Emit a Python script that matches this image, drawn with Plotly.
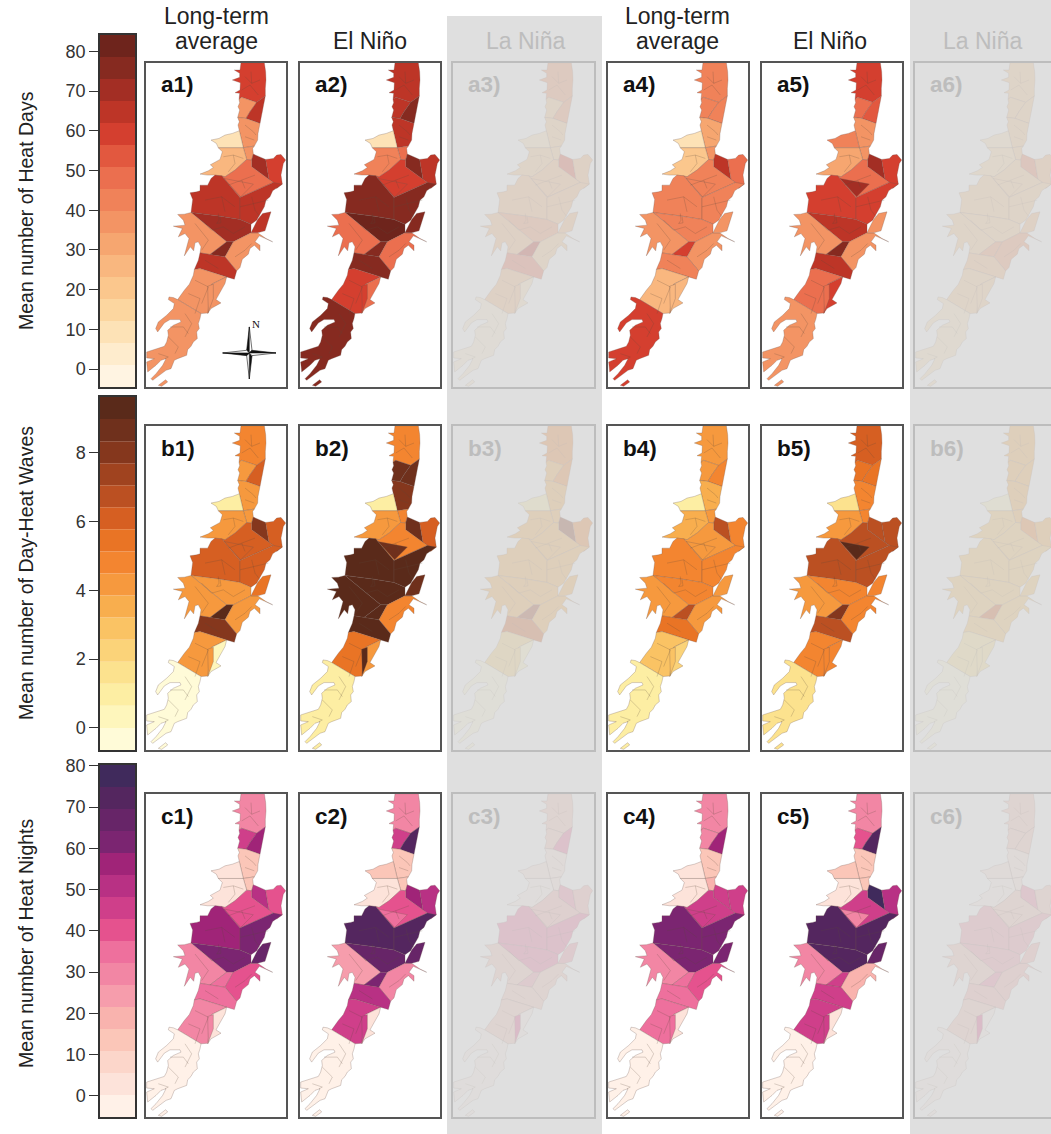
import numpy as np
import plotly.graph_objects as go

W, H = 1051, 1134

REGION_NAMES = ["N1","N2","N3","N4","N5","N6","W1","E1","E2","C1","T1","M1W","M1E","M2","W2","T2","P1","P2","S1","S2A","S2B","S3","S4"]
REGIONS = {
 "N1": [[(288,8),(358,8),(362,35),(363,60),(361,85),(361,108),(335,127),(290,112),(282,118),(284,100),(270,98),(285,90),(286,68),(262,60),(284,52),(284,40),(268,30),(285,30)]],
 "N2": [[(290,112),(335,127),(315,155),(303,175),(278,172),(284,150),(279,140),(284,128),(282,118)]],
 "N3": [[(361,108),(353,150),(345,190),(303,175),(315,155),(335,127)]],
 "N4": [[(278,172),(303,175),(345,190),(339,220),(338,240),(328,258),(295,263),(283,212),(279,195),(283,185)]],
 "N5": [[(283,212),(295,263),(220,263),(214,250),(198,240),(222,235),(240,225),(262,220)]],
 "N6": [[(295,263),(328,258),(323,265),(325,282),(320,300),(305,298)]],
 "W1": [[(220,263),(295,263),(305,298),(270,330),(240,350),(210,345),(188,345),(165,342),(190,332),(205,322),(196,314),(225,298),(232,275)]],
 "E1": [[(325,282),(345,290),(362,298),(372,358),(320,320),(320,300)]],
 "E2": [[(362,298),(385,295),(395,285),(408,283),(422,300),(415,310),(412,325),(408,345),(412,372),(395,385),(385,367),(372,358)]],
 "C1": [[(305,298),(320,300),(320,320),(372,358),(385,367),(285,412),(230,347),(240,350),(270,330)]],
 "T1": [[(237,355),(325,372),(287,410)]],
 "M1W": [[(188,375),(198,355),(210,345),(230,347),(285,412),(285,478),(225,468),(138,457),(143,418),(135,398),(155,395),(165,392),(165,375)]],
 "M1E": [[(285,412),(385,367),(412,372),(395,385),(383,392),(375,410),(363,420),(358,440),(348,457),(335,480),(318,492),(285,478)]],
 "M2": [[(138,457),(225,468),(285,478),(318,492),(318,518),(265,545),(245,545)]],
 "W2": [[(138,457),(245,545),(195,583),(165,578),(168,560),(160,545),(150,548),(146,572),(136,560),(118,587),(132,535),(120,520),(100,530),(112,505),(85,498),(120,495),(115,480),(98,463),(118,462)]],
 "T2": [[(195,583),(245,545),(265,545),(240,590)]],
 "P1": [[(265,545),(318,518),(338,518),(363,535),(383,545),(363,537),(343,527),(330,545),(345,555),(345,572),(328,555),(315,565),(310,582),(292,597),(285,622),(275,632),(240,590)]],
 "P2": [[(318,518),(338,478),(353,460),(378,455),(370,480),(363,500),(360,512),(338,518)]],
 "S1": [[(165,578),(195,583),(240,590),(275,632),(268,657),(245,650),(165,625),(148,628),(160,600)]],
 "S2A": [[(165,625),(245,650),(200,672),(190,758),(168,760),(98,718),(118,690),(133,672),(145,645),(148,628)]],
 "S2B": [[(200,672),(245,650),(240,670),(225,695),(213,718),(228,728),(198,745),(188,760)]],
 "S3": [[(188,678),(205,672),(205,715),(190,755)]],
 "S4": [[(98,718),(168,760),(165,775),(160,790),(163,805),(155,815),(157,835),(145,845),(138,858),(128,868),(125,885),(108,890),(98,895),(88,900),(78,925),(63,930),(43,945),(23,960),(18,955),(33,940),(53,915),(63,895),(48,900),(33,915),(8,935),(5,905),(28,895),(5,893),(5,875),(38,865),(58,858),(65,845),(70,825),(68,810),(85,795),(108,785),(105,778),(75,778),(58,788),(38,815),(32,805),(40,785),(65,765),(85,745),(88,730),(70,718),(72,710),(85,712)],
        [(62,958),(40,975),(50,978),(68,965)]],
}
DISTRICT_LINES = [
 [(300,50),(320,70),(345,60)], [(290,90),(315,75),(340,105)], [(320,70),(318,35)],
 [(300,195),(325,215),(333,225)], [(300,230),(328,240)], [(235,290),(265,285),(270,310),(250,335)], [(265,285),(295,295)],
 [(250,375),(290,360),(330,345)], [(290,360),(300,385)], [(180,420),(230,410),(270,440)], [(230,410),(240,455)],
 [(320,410),(330,450),(345,470)], [(285,440),(330,430),(370,420)], [(170,480),(200,510),(235,500)], [(235,500),(265,520),(300,500)],
 [(150,490),(190,540),(170,570)], [(270,590),(300,570),(320,550)], [(180,600),(220,625)],
 [(150,660),(190,680),(170,730)], [(130,700),(165,715),(150,760)], [(120,760),(140,790),(120,830)], [(75,800),(115,800),(130,820)],
 [(70,830),(100,860),(90,880)], [(40,880),(70,890),(60,895)], [(220,460),(222,480),(215,490),(228,488),(225,468)],
]

A_VALUES = {
 1: [59,37,64.7,37,9.4,37,26,70,59,48,48,64.7,64.7,70,37,75.8,37,64.7,64.7,37,37,37,37],
 2: [64.7,64.7,75.8,64.7,9.4,48,42.6,75.8,64.7,59,59,75.8,75.8,81,48,75.8,48,75.8,75.8,59,48,59,75.8],
 3: [37,20.4,37,20.4,9.4,20.4,20.4,53.7,26,26,26,26,26,37,26,64.7,20.4,26,48,26,9.4,26,3.8],
 4: [42.6,42.6,42.6,31.5,9.4,37,20.4,64.7,48,42.6,42.6,42.6,42.6,42.6,37,59,37,37,42.6,26,26,26,59],
 5: [59,48,53.7,37,42.6,37,31.5,70,59,48,70,59,59,64.7,37,75.8,37,37,64.7,48,59,48,37],
 6: [20.4,20.4,20.4,20.4,9.4,20.4,14.9,42.6,26,20.4,20.4,20.4,20.4,20.4,20.4,37,37,26,26,20.4,20.4,20.4,9.4],
}
B_VALUES = {
 1: [4.8,4.2,6.1,4.2,1,4.2,4.2,8,6.1,6.1,6.1,6.1,6.1,4.2,4.2,9.3,4.2,5.4,8,4.2,.3,4.2,-.3],
 2: [4.8,8.6,8.6,8,1,4.8,4.2,8.6,6.1,4.8,8.6,9.3,9.3,9.3,9.3,9.3,4.8,8.6,9.3,5.4,4.2,9.3,1],
 3: [4.8,3.5,4.8,3.5,1,3.5,3.5,8,4.8,3.5,3.5,3.5,3.5,3.5,3.5,7.4,3.5,3.5,6.1,2.2,.3,2.2,-.3],
 4: [4.2,4.2,4.8,3.5,1,4.2,3.5,6.7,4.8,4.2,4.2,4.8,4.8,4.8,4.2,6.7,4.2,4.2,5.4,2.9,2.2,2.9,1],
 5: [6.1,5.4,5.4,4.8,1.6,4.8,4.2,6.7,6.7,6.7,9.3,6.7,6.7,4.8,4.2,8,4.8,4.8,6.7,4.8,4.8,4.8,1.6],
 6: [3.5,3.5,3.5,3.5,.3,3.5,2.9,4.8,3.5,2.9,2.9,2.9,2.9,2.9,2.9,6.1,2.9,2.9,2.9,1.6,1.6,1.6,-.3],
}
C_VALUES = {
 1: [29.5,45.5,56.2,13.6,2.9,13.6,2.9,50.9,40.2,40.2,40.2,56.2,61.5,61.5,29.5,34.9,40.2,66.8,34.9,29.5,2.9,29.5,-2.4],
 2: [29.5,45.5,72.2,13.6,13.6,13.6,2.9,56.2,50.9,40.2,34.9,72.2,72.2,66.8,24.2,61.5,29.5,66.8,50.9,45.5,2.9,45.5,-2.4],
 3: [13.6,13.6,34.9,2.9,2.9,2.9,-2.4,29.5,18.9,18.9,18.9,34.9,34.9,34.9,13.6,24.2,13.6,24.2,13.6,13.6,-2.4,40.2,-2.4],
 4: [29.5,29.5,56.2,13.6,2.9,18.9,2.9,45.5,45.5,45.5,45.5,61.5,61.5,61.5,29.5,34.9,40.2,61.5,34.9,34.9,2.9,34.9,-2.4],
 5: [29.5,40.2,72.2,13.6,13.6,13.6,2.9,77.5,50.9,45.5,29.5,72.2,72.2,72.2,29.5,45.5,18.9,66.8,45.5,45.5,2.9,45.5,-2.4],
 6: [13.6,13.6,13.6,2.9,2.9,2.9,-2.4,29.5,13.6,13.6,13.6,24.2,24.2,24.2,13.6,29.5,18.9,18.9,18.9,13.6,-2.4,40.2,-2.4],
}

A_COLORS = ["#fff4e2","#feeccd","#fde2b6","#fcd69f","#fbc78d","#f9b77f","#f6a670","#f39464","#f08259","#eb6f4f","#e2583f","#d43f2f","#bd3527","#a32e24","#862a20","#6e241c"]
B_COLORS = ["#fffbd8","#fef6bc","#fdeea3","#fce28e","#fbd379","#fac364","#f8ae4e","#f6993e","#f38530","#e97425","#d65f22","#bb5022","#a0431f","#85371d","#6f301c","#5a2a1a"]
C_COLORS = ["#fff1e8","#fde3da","#fcd6ca","#fbc6b8","#f9b3ae","#f69dac","#f286a4","#ee709d","#e5528e","#cf3f8a","#b83184","#a02478","#7b2571","#672568","#54265f","#402a5c"]

ROWS = [
 dict(key="a", top=63, h=324, vals=A_VALUES, cols=A_COLORS, lo=-4.5, hi=84.1, bar=(35,387), ticks=list(range(0,81,10)), title="Mean number of Heat Days", ty=211),
 dict(key="b", top=426, h=324, vals=B_VALUES, cols=B_COLORS, lo=-0.64, hi=9.62, bar=(397,750), ticks=[0,2,4,6,8], title="Mean number of Day-Heat Waves", ty=573),
 dict(key="c", top=794, h=323, vals=C_VALUES, cols=C_COLORS, lo=-5.1, hi=80.2, bar=(765,1117), ticks=list(range(0,81,10)), title="Mean number of Heat Nights", ty=943),
]
COL_LEFT = [146,300,453,608,762,915]
COL_WIDTH = [140,140,141,140,140,136]
COLUMN_TITLES = [[("Long-term",16),("average",41.5)],[("El Niño",41.5)],[("La Niña",41.5)],[("Long-term",16),("average",41.5)],[("El Niño",41.5)],[("La Niña",41.5)]]
COLUMN_CENTERS = [216,370,525,677,830,982]
FADED = {2,5}

FONT = "Liberation Sans"
fig = go.Figure()
layout = {}
annotations = []
axis_n = 0

def px(x): return x / W
def py(y): return 1 - y / H

def new_axes(x0, x1, y0, y1, xrange, yrange, frame="#555555", **yextra):
    global axis_n
    axis_n += 1
    n = axis_n
    sx = "" if n == 1 else str(n)
    layout["xaxis"+sx] = dict(domain=[px(x0),px(x1)], range=xrange, anchor="y"+sx, showgrid=False, zeroline=False, automargin=False,
                              showticklabels=False, ticks="", showline=True, mirror=True, linecolor=frame, linewidth=1.5, fixedrange=True)
    yd = dict(domain=[py(y1),py(y0)], range=yrange, anchor="x"+sx, showgrid=False, zeroline=False, automargin=False,
              showticklabels=False, ticks="", showline=True, mirror=True, linecolor=frame, linewidth=1.5, fixedrange=True)
    yd.update(yextra)
    layout["yaxis"+sx] = yd
    return "x"+sx, "y"+sx

def ring_xy(rings):
    xs, ys = [], []
    for r in rings:
        xs += [p[0] for p in r] + [r[0][0], None]
        ys += [p[1] for p in r] + [r[0][1], None]
    return xs, ys

for row in ROWS:
    edges = np.linspace(row["lo"], row["hi"], 17)
    xa, ya = new_axes(100, 135, row["bar"][0], row["bar"][1], [-0.5,0.5], [row["lo"],row["hi"]], frame="#333333",
                      showticklabels=True, ticks="outside", ticklen=9, tickwidth=1, tickcolor="#333333",
                      tickvals=row["ticks"], ticktext=[str(t) for t in row["ticks"]],
                      tickfont=dict(family=FONT, size=18, color="#333333"))
    fig.add_trace(go.Bar(x=[0]*16, y=list(np.diff(edges)), base=list(edges[:-1]), width=1,
                         marker=dict(color=row["cols"], line=dict(width=0)), xaxis=xa, yaxis=ya, hoverinfo="skip", showlegend=False))
    annotations.append(dict(text=row["title"], x=px(26), y=py(row["ty"]), xref="paper", yref="paper", textangle=-90, showarrow=False,
                            xanchor="center", yanchor="middle", font=dict(family=FONT, size=19.5, color="#222222")))
    for c in range(6):
        left, wid = COL_LEFT[c], COL_WIDTH[c]
        xa, ya = new_axes(left, left+wid, row["top"], row["top"]+row["h"], [3, 3+wid*3], [980, 9])
        values = row["vals"][c+1]
        for name, v in zip(REGION_NAMES, values):
            xs, ys = ring_xy(REGIONS[name])
            k = int(np.clip(np.digitize(v, edges)-1, 0, 15))
            fig.add_trace(go.Scatter(x=xs, y=ys, mode="lines", fill="toself",
                                     fillcolor=row["cols"][k], line=dict(color="rgba(110,85,75,0.55)", width=0.5),
                                     xaxis=xa, yaxis=ya, hoverinfo="skip", showlegend=False))
        lx, ly = [], []
        for seg in DISTRICT_LINES:
            lx += [p[0] for p in seg] + [None]
            ly += [p[1] for p in seg] + [None]
        fig.add_trace(go.Scatter(x=lx, y=ly, mode="lines", line=dict(color="rgba(90,70,60,0.45)", width=0.5),
                                 xaxis=xa, yaxis=ya, hoverinfo="skip", showlegend=False))
        annotations.append(dict(text=f"<b>{row['key']}{c+1})</b>", x=px(left+13), y=py(row["top"]+22), xref="paper", yref="paper",
                                showarrow=False, xanchor="left", yanchor="middle",
                                font=dict(family=FONT, size=22.5, color="#bdbdbd" if c in FADED else "#111111")))
        if row["key"] == "a" and c == 0:
            cx, cy = 313, 878
            wedges = [([(cx,cy-78),(cx-8,cy-8),(cx,cy)],"#111111"),([(cx,cy-78),(cx+8,cy-8),(cx,cy)],"#ffffff"),
                      ([(cx,cy+78),(cx+8,cy+8),(cx,cy)],"#111111"),([(cx,cy+78),(cx-8,cy+8),(cx,cy)],"#ffffff"),
                      ([(cx-80,cy),(cx-8,cy+8),(cx,cy)],"#111111"),([(cx-80,cy),(cx-8,cy-8),(cx,cy)],"#ffffff"),
                      ([(cx+80,cy),(cx+8,cy-8),(cx,cy)],"#111111"),([(cx+80,cy),(cx+8,cy+8),(cx,cy)],"#ffffff")]
            for pts, col in wedges:
                xs, ys = ring_xy([pts])
                fig.add_trace(go.Scatter(x=xs, y=ys, mode="lines", fill="toself", fillcolor=col,
                                         line=dict(color="#111111", width=0.6), xaxis=xa, yaxis=ya, hoverinfo="skip", showlegend=False))
            annotations.append(dict(text="N", x=px(249.5), y=py(316), xref="paper", yref="paper", showarrow=False,
                                    font=dict(family="Liberation Serif", size=11, color="#111111")))

for c in range(6):
    for text, y in COLUMN_TITLES[c]:
        annotations.append(dict(text=text, x=px(COLUMN_CENTERS[c]), y=py(y), xref="paper", yref="paper", showarrow=False,
                                xanchor="center", yanchor="middle", align="center",
                                font=dict(family=FONT, size=23, color="#bdbdbd" if c in FADED else "#222222")))

shapes = [
 dict(type="rect", xref="paper", yref="paper", x0=px(447), x1=px(602), y0=0, y1=py(16), layer="above",
      line=dict(width=0), fillcolor="rgba(215,215,215,0.8)"),
 dict(type="rect", xref="paper", yref="paper", x0=px(910), x1=1, y0=0, y1=1, layer="above",
      line=dict(width=0), fillcolor="rgba(215,215,215,0.8)"),
]

fig.update_layout(width=W, height=H, margin=dict(l=0,r=0,t=0,b=0,autoexpand=False), paper_bgcolor="white", plot_bgcolor="white",
                  showlegend=False, shapes=shapes, annotations=annotations, barmode="overlay", **layout)
fig.write_html("out.html", config={"displayModeBar": False}, post_script="document.body.style.margin='0';")
